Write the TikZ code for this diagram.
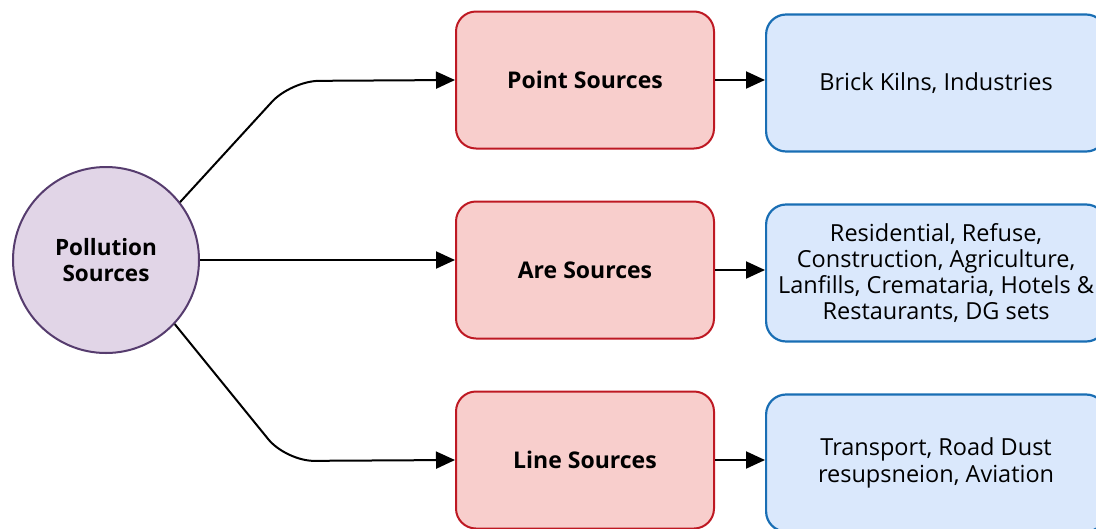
\documentclass[tikz,border=0pt]{standalone}
\usepackage{fontspec}
\setmainfont{Open Sans}
\usetikzlibrary{arrows.meta,positioning}

\definecolor{srcfill}{RGB}{225,213,231}
\definecolor{srcline}{RGB}{86,60,110}
\definecolor{redfill}{RGB}{248,206,204}
\definecolor{redline}{RGB}{190,25,35}
\definecolor{bluefill}{RGB}{218,232,252}
\definecolor{blueline}{RGB}{25,110,180}

\tikzset{
    srcnode/.style={circle,draw=srcline,fill=srcfill,line width=2pt,
        minimum size=186pt,align=center,font=\fontsize{22.5}{26}\selectfont\bfseries},
    kindbox/.style={rectangle,rounded corners=20pt,draw=redline,fill=redfill,
        line width=2pt,minimum width=258pt,minimum height=137pt,
        font=\fontsize{23}{26}\selectfont\bfseries},
    listbox/.style={rectangle,rounded corners=20pt,draw=blueline,fill=bluefill,
        line width=2.2pt,minimum width=340pt,minimum height=137pt,align=center,
        yshift=-3pt,font=\fontsize{23.5}{26.3}\selectfont},
    link/.style={line width=2pt,-{Triangle[length=19pt,width=17pt]}}
}

\begin{document}
\begin{tikzpicture}[x=1pt,y=-1pt]
    \useasboundingbox (0,0) rectangle (1096,528);

    % Source circle
    \node (src) [srcnode] at (106,260) {Pollution\\Sources};

    % Kinds of sources
    \node (point) [kindbox] at (585,80) {Point Sources};
    \node (area) [kindbox] at (585,270) {Are Sources};
    \node (line) [kindbox] at (585,460) {Line Sources};

    % What falls under each kind
    \node (pointlist) [listbox, right=50pt of point] {Brick Kilns, Industries};
    \node (arealist) [listbox, right=50pt of area]
        {Residential, Refuse,\\Construction, Agriculture,\\Lanfills, Cremataria, Hotels \&\\Restaurants, DG sets};
    \node (linelist) [listbox, right=50pt of line] {Transport, Road Dust\\resupsneion, Aviation};

    % Bends of the outer edges
    \coordinate (bendtop) at (291,81);
    \coordinate (bendbot) at (286,461);

    % Edges from the circle
    \draw [link,rounded corners=28pt] (src.38) -- (bendtop) -- (point.west);
    \draw [link] (src.east) -- (src.east -| area.west);
    \draw [link,rounded corners=28pt] (src.-43) -- (bendbot) -- (line.west);

    % Edges to the lists
    \draw [link] (point.east) -- (point.east -| pointlist.west);
    \draw [link] (area.east) -- (area.east -| arealist.west);
    \draw [link] (line.east) -- (line.east -| linelist.west);
\end{tikzpicture}
\end{document}
